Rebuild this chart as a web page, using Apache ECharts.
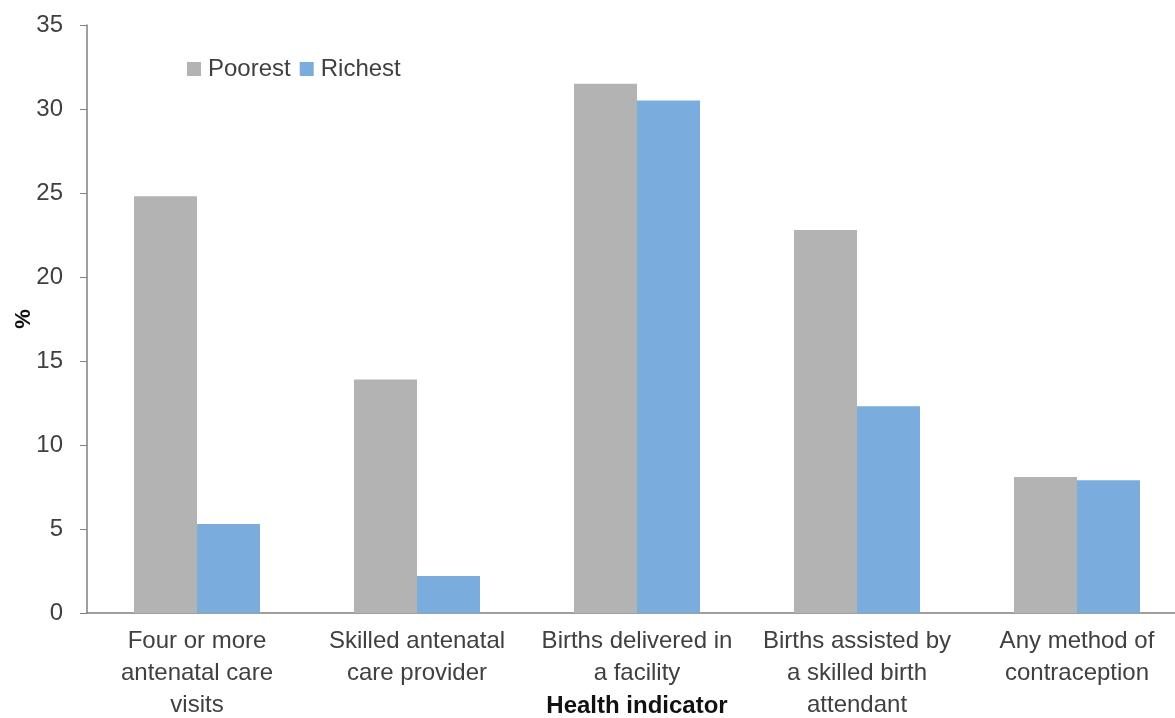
<!DOCTYPE html>
<html>
<head>
<meta charset="utf-8">
<script src="https://cdn.jsdelivr.net/npm/echarts@6/dist/echarts.min.js"></script>
<style>
  html, body { margin: 0; padding: 0; background: #fff; }
  #chart { width: 1175px; height: 718px; }
</style>
</head>
<body>
<div id="chart"></div>
<script>
// categories (x axis)
const indicators = [
    'Four or more\nantenatal care\nvisits',
    'Skilled antenatal\ncare provider',
    'Births delivered in\na facility',
    'Births assisted by\na skilled birth\nattendant',
    'Any method of\ncontraception'
];
// values in %
const poorest = [24.8, 13.9, 31.5, 22.8, 8.1];
const richest = [5.3, 2.2, 30.5, 12.3, 7.9];

const textColor = '#404040';
const font = 'Liberation Sans, Arial, sans-serif';

const chart = echarts.init(document.getElementById('chart'));
chart.setOption({
    animation: false,
    textStyle: { fontFamily: font },
    color: ['#b3b3b3', '#7aadde'],
    legend: {
        left: 182,
        top: 52,
        itemWidth: 14,
        itemHeight: 14,
        itemGap: 9,
        icon: 'rect',
        textStyle: { fontSize: 24, color: textColor, fontFamily: font, padding: [0, 0, 0, 2] },
        data: ['Poorest', 'Richest']
    },
    grid: { left: 87, right: -12, top: 25, bottom: 105, outerBoundsMode: 'none', containLabel: false },
    xAxis: {
        type: 'category',
        data: indicators,
        name: 'Health indicator',
        nameLocation: 'middle',
        nameGap: 81,
        nameMoveOverlap: false,
        nameTextStyle: { fontSize: 24, fontWeight: 'bold', color: '#111', fontFamily: font },
        axisLine: { lineStyle: { color: '#808080', width: 1.5 } },
        axisTick: { alignWithLabel: true, length: 8, lineStyle: { color: '#808080' } },
        axisLabel: {
            interval: 0,
            fontSize: 24,
            color: textColor,
            lineHeight: 32,
            margin: 12,
            fontFamily: font
        }
    },
    yAxis: {
        type: 'value',
        min: 0,
        max: 35,
        interval: 5,
        name: '%',
        nameLocation: 'middle',
        nameGap: 52,
        nameMoveOverlap: false,
        nameTextStyle: { fontSize: 22, fontWeight: 'bold', color: '#111', fontFamily: font },
        splitLine: { show: false },
        axisLine: { show: true, lineStyle: { color: '#808080', width: 1.5 } },
        axisTick: { show: true, length: 7, lineStyle: { color: '#808080' } },
        axisLabel: { fontSize: 24, color: textColor, margin: 24, fontFamily: font }
    },
    series: [
        { name: 'Poorest', type: 'bar', data: poorest, barWidth: 63, barGap: '0%' },
        { name: 'Richest', type: 'bar', data: richest, barWidth: 63, barGap: '0%' }
    ]
});
</script>
</body>
</html>
